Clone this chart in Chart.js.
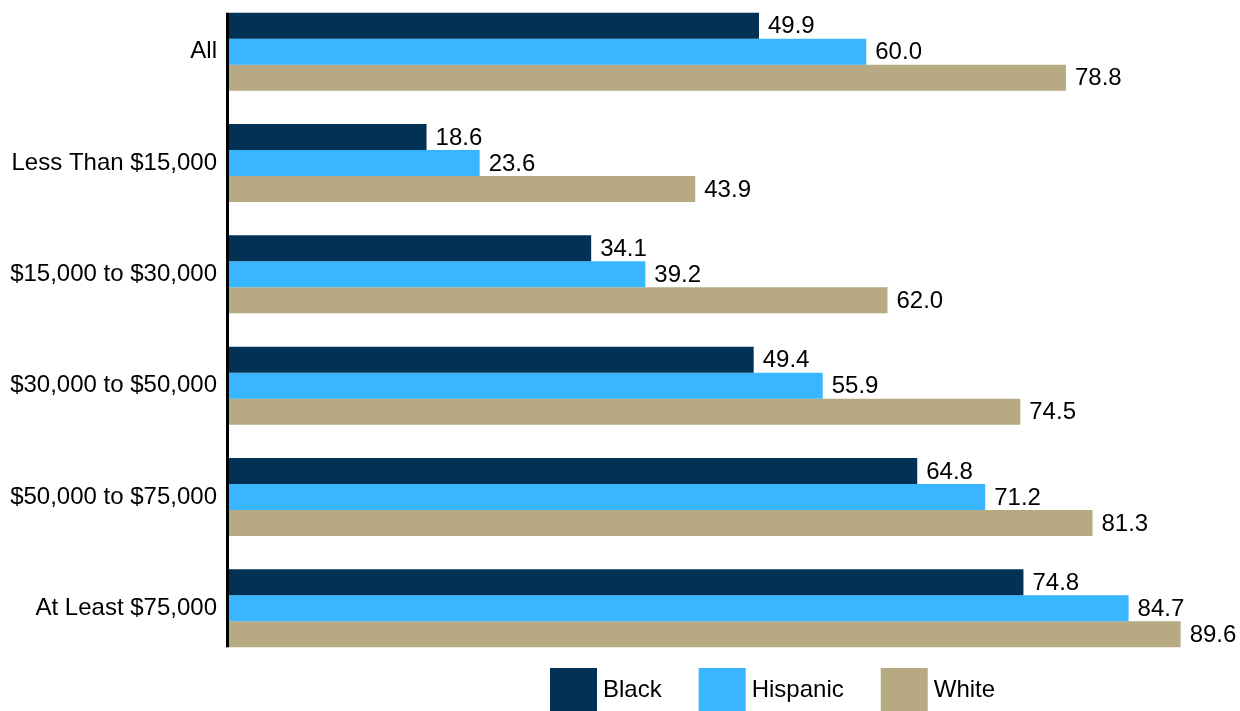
<!DOCTYPE html>
<html lang="en">

<head>
    <meta charset="UTF-8">
    <title>Income groups</title>
    <script src="https://cdn.jsdelivr.net/npm/chart.js@4.4.1/dist/chart.umd.min.js"></script>
    <style>
        html, body { margin: 0; padding: 0; overflow: hidden; background: #fff; }
        #wrap { position: absolute; left: 0; top: -4px; width: 1240px; height: 715px; }
    </style>
</head>

<body>
    <div id="wrap"><canvas id="myChart" width="1240" height="715"></canvas></div>
    <script>
        const categories = ['All', 'Less Than $15,000', '$15,000 to $30,000', '$30,000 to $50,000', '$50,000 to $75,000', 'At Least $75,000'];
        const seriesNames = ['Black', 'Hispanic', 'White'];
        const black = [49.9, 18.6, 34.1, 49.4, 64.8, 74.8];
        const hispanic = [60.0, 23.6, 39.2, 55.9, 71.2, 84.7];
        const white = [78.8, 43.9, 62.0, 74.5, 81.3, 89.6];
        const colors = ['#023156', '#38b6ff', '#b7aa83'];

        const FONT = 'Arial, "Liberation Sans", sans-serif';

        // value labels at the end of each bar + axis line + legend
        const extras = {
            id: 'extras',
            afterDatasetsDraw(chart) {
                const ctx = chart.ctx;
                ctx.save();
                ctx.font = '24px ' + FONT;
                ctx.fillStyle = '#000';
                ctx.textBaseline = 'middle';
                ctx.textAlign = 'left';
                chart.data.datasets.forEach((ds, i) => {
                    chart.getDatasetMeta(i).data.forEach((bar, j) => {
                        ctx.fillText(ds.data[j].toFixed(1), bar.x + 9, bar.y + 1);
                    });
                });

                // vertical axis line, from first bar top to last bar bottom
                const first = chart.getDatasetMeta(0).data[0];
                const lastMeta = chart.getDatasetMeta(chart.data.datasets.length - 1);
                const last = lastMeta.data[lastMeta.data.length - 1];
                const x0 = chart.scales.x.getPixelForValue(0);
                const top = first.y - first.height / 2;
                ctx.fillStyle = '#000';
                ctx.fillRect(x0 - 3, top, 3, last.y + last.height / 2 - top);

                // legend
                let lx = 550;
                const ly = chart.chartArea.bottom + 4;
                chart.data.datasets.forEach((ds) => {
                    ctx.fillStyle = ds.backgroundColor;
                    ctx.fillRect(lx, ly, 47, 43);
                    ctx.fillStyle = '#000';
                    ctx.fillText(ds.label, lx + 53, ly + 22);
                    lx += 53 + ctx.measureText(ds.label).width + 37;
                });
                ctx.restore();
            }
        };

        const ctx = document.getElementById('myChart').getContext('2d');
        const myChart = new Chart(ctx, {
            type: 'bar',
            data: {
                labels: categories,
                datasets: [
                    { label: seriesNames[0], data: black, backgroundColor: colors[0] },
                    { label: seriesNames[1], data: hispanic, backgroundColor: colors[1] },
                    { label: seriesNames[2], data: white, backgroundColor: colors[2] }
                ]
            },
            options: {
                indexAxis: 'y',
                responsive: false,
                animation: false,
                layout: { padding: { top: 0, right: 2, bottom: 47, left: 0 } },
                datasets: {
                    bar: { categoryPercentage: 0.7, barPercentage: 1.0, borderWidth: 0 }
                },
                scales: {
                    x: {
                        display: false,
                        min: 0,
                        max: 95
                    },
                    y: {
                        grid: { display: false, drawTicks: false },
                        border: { display: false },
                        afterFit(scale) {
                            scale.width = 229;
                            scale.paddingTop = 0;
                            scale.paddingBottom = 0;
                        },
                        ticks: {
                            padding: 12,
                            color: '#000',
                            font: { family: FONT, size: 24 }
                        }
                    }
                },
                plugins: {
                    legend: { display: false },
                    tooltip: { enabled: false }
                }
            },
            plugins: [extras]
        });
    </script>

</body>

</html>
